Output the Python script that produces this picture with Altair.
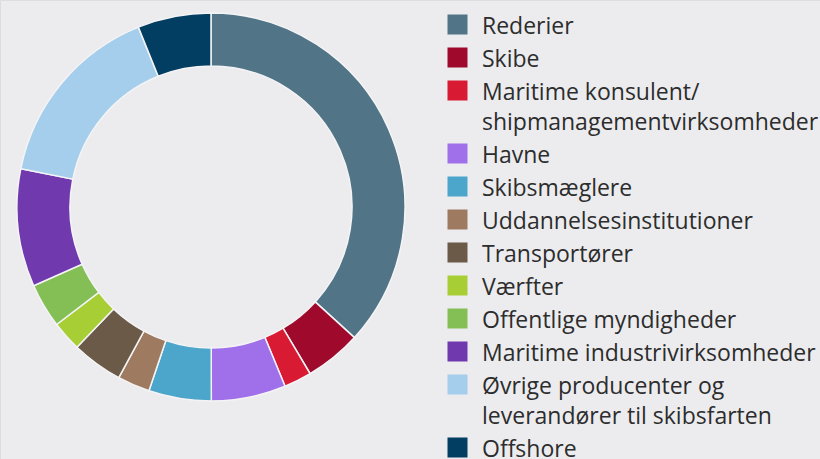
import altair as alt
import pandas as pd

categories = [
    "Rederier",
    "Skibe",
    "Maritime konsulent/shipmanagementvirksomheder",
    "Havne",
    "Skibsmæglere",
    "Uddannelsesinstitutioner",
    "Transportører",
    "Værfter",
    "Offentlige myndigheder",
    "Maritime industrivirksomheder",
    "Øvrige producenter og leverandører til skibsfarten",
    "Offshore",
]
shares = [36.7, 4.7, 2.3, 6.2, 5.2, 2.7, 4.25, 2.5, 3.7, 9.8, 15.7, 6.1]
colors = [
    "#517487", "#9f0a2c", "#d81b33", "#a070ea", "#4ca5ca", "#9e7b60",
    "#6b5a47", "#a8ce36", "#84bf55", "#7039ae", "#a5cdec", "#023d62",
]

df = pd.DataFrame({"kategori": categories, "andel": shares, "idx": list(range(len(categories)))})

label_expr = (
    "datum.label == 'Maritime konsulent/shipmanagementvirksomheder' ? "
    "['Maritime konsulent/', 'shipmanagementvirksomheder'] : "
    "datum.label == 'Øvrige producenter og leverandører til skibsfarten' ? "
    "['Øvrige producenter og', 'leverandører til skibsfarten'] : datum.label"
)

chart = (
    alt.Chart(df)
    .mark_arc(outerRadius=194, innerRadius=141, stroke="#f4f4f6", strokeWidth=1.5)
    .encode(
        x=alt.value(211),
        y=alt.value(207),
        theta=alt.Theta("andel:Q", stack=True),
        order=alt.Order("idx:Q"),
        color=alt.Color(
            "kategori:N",
            scale=alt.Scale(domain=categories, range=colors),
            sort=categories,
            legend=alt.Legend(
                title=None,
                orient="none",
                legendX=446,
                legendY=13,
                symbolType="square",
                symbolSize=400,
                symbolStrokeWidth=0,
                labelFont="Open Sans",
                labelFontSize=23,
                labelColor="#2d2d2d",
                labelLimit=400,
                labelOffset=13,
                labelBaseline="top",
                labelExpr=label_expr,
                rowPadding=7,
                padding=0,
            ),
        ),
    )
    .properties(width=820, height=459, background="#ececef", padding=0,
                autosize=alt.AutoSizeParams(type="none"))
    .configure_view(strokeWidth=0)
    .configure(style={"guide-label": {"lineHeight": 30, "dy": -9}})
)

chart.save("out.html", embed_options={"renderer": "svg", "actions": False})
